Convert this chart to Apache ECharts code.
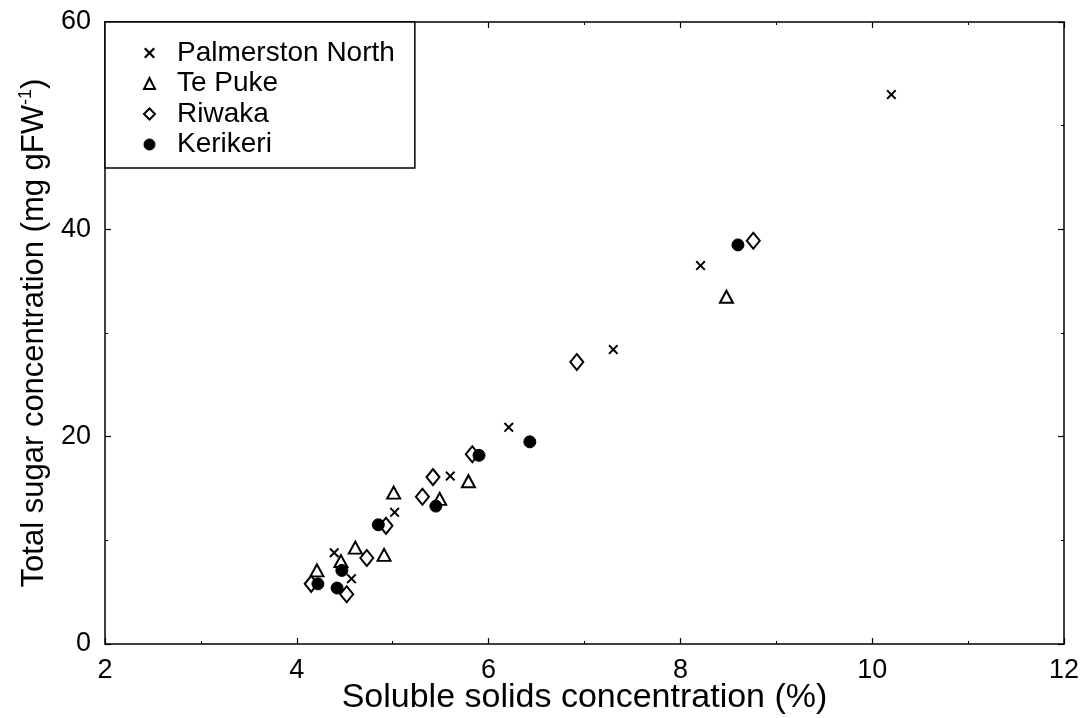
<!DOCTYPE html>
<html>
<head>
<meta charset="utf-8">
<style>
  html, body { margin: 0; padding: 0; background: #fff; }
  #chart { width: 1087px; height: 718px; }
</style>
<script src="https://cdn.jsdelivr.net/npm/echarts@6/dist/echarts.min.js"></script>
</head>
<body>
<div id="chart"></div>
<script>
// Soluble solids (%) vs total sugar (mg gFW-1), four growing regions
const palmerstonNorth = [[10.2, 53.0], [8.21, 36.5], [7.30, 28.4], [6.21, 20.9], [5.60, 16.2], [5.02, 12.7], [4.39, 8.8], [4.57, 6.3]];
const tePuke = [[8.48, 33.5], [5.79, 15.7], [5.01, 14.6], [5.49, 14.0], [4.61, 9.3], [4.46, 8.0], [4.91, 8.6], [4.21, 7.1]];
const riwaka = [[8.76, 38.9], [6.92, 27.2], [5.83, 18.3], [5.42, 16.1], [5.31, 14.2], [4.93, 11.4], [4.73, 8.3], [4.15, 5.8], [4.52, 4.8]];
const kerikeri = [[8.60, 38.5], [6.43, 19.5], [5.90, 18.2], [5.45, 13.3], [4.85, 11.5], [4.47, 7.1], [4.22, 5.8], [4.42, 5.4]];

const seriesNames = ['Palmerston North', 'Te Puke', 'Riwaka', 'Kerikeri'];
const xTicks = { min: 2, max: 12, interval: 2 };
const yTicks = { min: 0, max: 60, interval: 20 };
const xTitle = 'Soluble solids concentration (%)';
const yTitle = '{a|Total sugar concentration (mg gFW}{s|-1}{a|)}';

const FONT = '"Liberation Sans", Arial, Helvetica, sans-serif';
const CROSS = 'path://M0,1.4L1.4,0L5,3.6L8.6,0L10,1.4L6.4,5L10,8.6L8.6,10L5,6.4L1.4,10L0,8.6L3.6,5Z';

const chart = echarts.init(document.getElementById('chart'), null, { renderer: 'canvas' });

function baseAxis(extra) {
  return Object.assign({
    axisLine: { show: true, onZero: false, lineStyle: { color: '#000', width: 1.5 } },
    axisTick: { show: true, inside: true, length: 6, lineStyle: { color: '#000', width: 1.2 } },
    minorTick: { show: true, splitNumber: 2, length: 3, lineStyle: { color: '#000', width: 1 } },
    splitLine: { show: false },
    axisLabel: { color: '#000', fontFamily: FONT, fontSize: 26 }
  }, extra);
}

const markerStyle = {
  'Palmerston North': { symbol: CROSS, symbolSize: 10, itemStyle: { color: '#000', borderWidth: 0, opacity: 1 } },
  'Te Puke': { symbol: 'triangle', symbolSize: [13, 12], itemStyle: { color: '#fff', borderColor: '#000', borderWidth: 2, opacity: 1 } },
  'Riwaka': { symbol: 'diamond', symbolSize: [13, 16], itemStyle: { color: '#fff', borderColor: '#000', borderWidth: 2, opacity: 1 } },
  'Kerikeri': { symbol: 'circle', symbolSize: 12, itemStyle: { color: '#000', borderColor: '#000', borderWidth: 1, opacity: 1 } }
};
const dataByName = {
  'Palmerston North': palmerstonNorth,
  'Te Puke': tePuke,
  'Riwaka': riwaka,
  'Kerikeri': kerikeri
};

chart.setOption({
  animation: false,
  backgroundColor: '#fff',
  grid: { left: 105, right: 23, top: 22, bottom: 74, containLabel: false, outerBoundsMode: 'none' },
  legend: {
    orient: 'vertical',
    left: 105,
    top: 22,
    padding: [17, 20, 9.5, 38],
    itemGap: 2.5,
    itemWidth: 11,
    itemHeight: 11,
    borderColor: '#000',
    borderWidth: 1.5,
    backgroundColor: '#fff',
    textStyle: { color: '#000', fontFamily: FONT, fontSize: 28, padding: [0, 0, 0, 17] },
    data: seriesNames.map(n => ({
      name: n,
      icon: markerStyle[n].symbol,
      itemStyle: n === 'Palmerston North'
        ? { color: '#000', borderWidth: 0, opacity: 1 }
        : markerStyle[n].itemStyle
    }))
  },
  xAxis: [
    baseAxis({
      type: 'value', position: 'bottom', min: xTicks.min, max: xTicks.max, interval: xTicks.interval,
      name: xTitle, nameLocation: 'middle', nameGap: 37, nameMoveOverlap: false,
      nameTextStyle: { color: '#000', fontFamily: FONT, fontSize: 34 },
      axisLabel: { color: '#000', fontFamily: FONT, fontSize: 27, margin: 13 }
    }),
    baseAxis({
      type: 'value', position: 'top', min: xTicks.min, max: xTicks.max, interval: xTicks.interval,
      axisLabel: { show: false }
    })
  ],
  yAxis: [
    baseAxis({
      type: 'value', position: 'left', min: yTicks.min, max: yTicks.max, interval: yTicks.interval,
      name: yTitle, nameLocation: 'middle', nameGap: 54, nameRotate: 90, nameMoveOverlap: false,
      nameTextStyle: {
        color: '#000', fontFamily: FONT, fontSize: 31,
        rich: {
          a: { color: '#000', fontFamily: FONT, fontSize: 31 },
          s: { color: '#000', fontFamily: FONT, fontSize: 18, verticalAlign: 'bottom', padding: [0, 0, 16, 0] }
        }
      },
      axisLabel: { color: '#000', fontFamily: FONT, fontSize: 27, margin: 14 }
    }),
    baseAxis({
      type: 'value', position: 'right', min: yTicks.min, max: yTicks.max, interval: yTicks.interval,
      axisLabel: { show: false }
    })
  ],
  series: seriesNames.map(n => ({
    name: n,
    type: 'scatter',
    xAxisIndex: 0,
    yAxisIndex: 0,
    symbol: markerStyle[n].symbol,
    symbolSize: markerStyle[n].symbolSize,
    itemStyle: markerStyle[n].itemStyle,
    emphasis: { disabled: true },
    data: dataByName[n]
  }))
});
</script>
</body>
</html>
